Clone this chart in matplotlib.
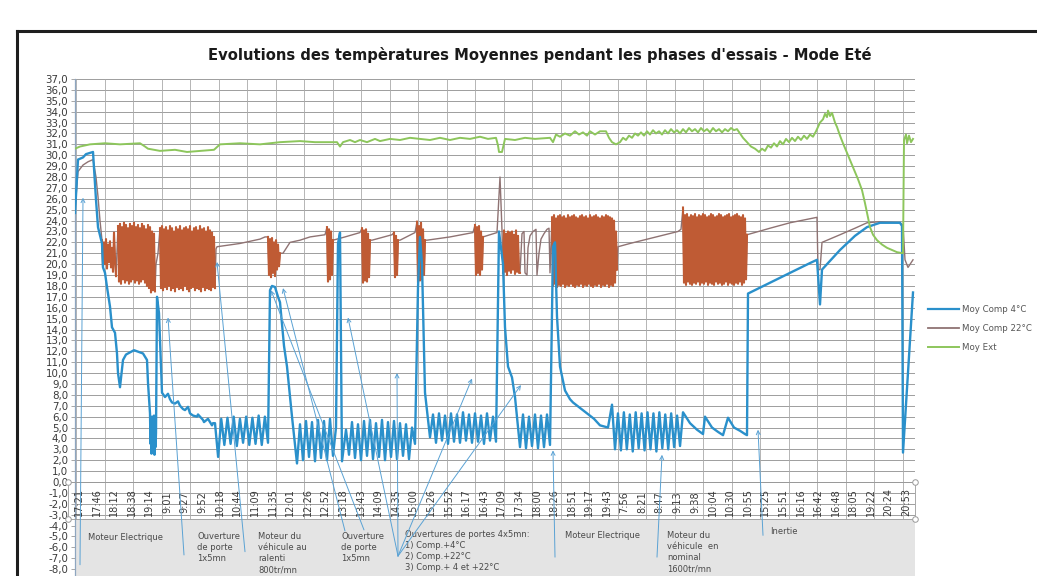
import numpy as np
import matplotlib
matplotlib.use("Agg")
import matplotlib.pyplot as plt
from matplotlib.lines import Line2D
from matplotlib.patches import Rectangle

# ---------------- data ----------------
title = "Evolutions des tempèratures Moyennes pendant les phases d'essais - Mode Eté"
series_names = ["Moy Comp 4°C", "Moy Comp 22°C", "Moy Ext"]

time_labels = ["17:21", "17:46", "18:12", "18:38", "19:14", "9:01", "9:27", "9:52", "10:18", "10:44",
               "11:09", "11:35", "12:01", "12:26", "12:52", "13:18", "13:43", "14:09", "14:35", "15:00",
               "15:26", "15:52", "16:17", "16:43", "17:09", "17:34", "18:00", "18:26", "18:51", "19:17",
               "19:43", "7:56", "8:21", "8:47", "9:13", "9:38", "10:04", "10:30", "10:55", "15:25",
               "15:51", "16:16", "16:42", "16:48", "18:05", "19:22", "20:24", "20:53"]
label_start = 4          # sample index of first label
label_step = 17.6        # samples between labels
n_samples = 840

# Series are given as parts: ('pts', [(sample, value), ...]) or ('osc', s0, s1, [values sampled evenly])
comp4_parts = [
    ('pts', [(0, 24.7), (3, 29.6), (8, 29.8), (11, 30.1), (18, 30.3), (21, 25.9), (23, 23.4), (27, 21.9),
             (28, 19.7), (30, 19.2), (32, 17.9), (35, 16.1), (37, 14.2), (40, 13.7), (42, 11.8), (43, 10.0),
             (45, 8.7), (48, 11.2), (51, 11.7), (55, 11.9), (59, 12.1), (62, 12.0), (65, 11.9), (68, 11.8),
             (72, 11.2), (73, 9.1), (75, 6.3)]),
    ('osc', 75.5, 81, [3.5, 5.8, 2.6, 6.0, 2.8, 5.5, 3.0, 6.1, 2.5, 5.0, 3.2, 4.5]),
    ('pts', [(82, 17.0), (84, 15.5), (87, 8.2), (90, 7.8), (93, 8.1), (95, 7.6), (97, 7.3), (100, 7.2),
             (103, 7.4), (105, 7.0), (108, 6.7), (110, 6.6), (113, 6.9), (115, 6.3), (118, 6.1), (122, 6.0),
             (123, 6.2), (128, 5.7), (129, 5.5), (133, 5.8), (135, 5.5), (137, 5.2), (138, 5.4)]),
    ('osc', 140, 193, [5.4, 2.3, 5.8, 3.4, 5.9, 3.5, 6.0, 3.3, 5.8, 3.6, 6.0, 3.4, 5.9, 3.5, 6.1, 3.4, 6.0, 3.6]),
    ('pts', [(195, 17.6), (197, 18.0), (200, 17.9), (203, 17.0), (205, 16.5), (209, 12.5), (212, 10.6),
             (217, 6.0), (222, 1.7)]),
    ('osc', 225, 261, [5.3, 2.0, 5.6, 2.3, 5.5, 1.9, 5.7, 2.2, 5.6, 2.0, 5.8, 2.4, 5.0]),
    ('pts', [(263, 21.9), (265, 22.9), (267, 1.9)]),
    ('osc', 271, 340, [4.8, 2.5, 5.5, 2.2, 5.3, 2.0, 5.6, 2.4, 5.7, 2.1, 5.4, 2.3, 5.7, 2.0, 5.5, 2.3,
                       5.6, 2.1, 5.4, 2.4, 5.3, 2.1, 5.0, 3.5]),
    ('pts', [(343, 17.9), (345, 22.5), (347, 20.0), (350, 8.2), (355, 4.1)]),
    ('osc', 358, 421, [6.2, 3.6, 6.3, 3.8, 6.1, 3.5, 6.3, 3.7, 6.2, 3.6, 6.4, 3.8, 6.2, 3.6, 6.3, 3.7,
                       6.1, 3.5, 6.3, 3.8, 6.0, 3.7]),
    ('pts', [(424, 23.0), (428, 20.0), (430, 14.2), (433, 10.6), (437, 9.6), (440, 7.8), (442, 6.0)]),
    ('osc', 445, 475, [3.2, 6.2, 3.1, 6.0, 3.3, 6.2, 3.1, 6.1, 3.2, 6.2, 3.4]),
    ('pts', [(478, 21.6), (480, 22.0), (482, 15.2), (485, 10.6), (490, 8.4), (495, 7.6), (498, 7.3),
             (505, 6.8), (512, 6.3), (519, 5.8), (525, 5.2), (533, 5.0), (537, 7.1)]),
    ('osc', 540, 608, [3.0, 6.3, 2.9, 6.4, 3.0, 6.2, 2.8, 6.4, 3.1, 6.3, 2.9, 6.4, 3.0, 6.3, 2.8, 6.4,
                       3.1, 6.2, 3.0, 6.3, 3.2, 6.1, 3.3, 6.4]),
    ('pts', [(615, 5.4), (622, 4.8), (628, 4.4), (630, 6.0), (637, 5.0), (643, 4.6), (648, 4.3), (653, 5.9),
             (659, 5.0), (665, 4.7), (670, 4.4), (672, 4.3), (673, 17.3), (695, 18.3), (715, 19.2),
             (735, 20.1), (742, 20.4), (745, 16.3), (747, 19.5), (765, 21.3), (780, 22.6), (792, 23.4),
             (805, 23.8), (825, 23.8), (827, 23.5), (828, 2.7), (838, 17.4)]),
]

comp22_parts = [
    ('pts', [(0, 25.0), (3, 28.5), (8, 29.1), (13, 29.4), (18, 29.6), (21, 28.0), (22, 27.1), (23, 26.2),
             (25, 24.0)]),
    ('osc', 27, 41, [22.2, 19.8, 22.0, 20.0, 22.3, 19.6, 21.8, 20.2, 22.1, 19.7, 21.5, 19.3, 22.9, 20.5, 18.9]),
    ('osc', 43, 80, [23.5, 18.4, 23.7, 18.2, 23.4, 18.6, 23.8, 18.3, 23.6, 18.5, 23.3, 18.2, 23.7, 18.4,
                     23.5, 18.6, 23.8, 18.3, 23.4, 18.5, 23.6, 18.2, 23.3, 18.4, 23.7, 18.6, 23.5, 18.3,
                     23.2, 18.0, 23.6, 17.8, 23.4, 17.4, 23.0, 17.6, 22.8, 17.5]),
    ('pts', [(81, 20.0), (83, 21.0)]),
    ('osc', 85, 140, [23.3, 17.8, 23.5, 17.6, 23.2, 17.9, 23.4, 17.7, 23.1, 18.0, 23.5, 17.6, 23.3, 17.8,
                      23.0, 17.5, 23.4, 17.9, 23.2, 17.7, 23.5, 17.8, 23.1, 17.6, 23.3, 18.0, 23.4, 17.7,
                      23.2, 17.5, 23.5, 17.8, 23.0, 17.9, 23.3, 17.6, 23.4, 17.8, 23.1, 17.7, 23.5, 17.5,
                      23.2, 17.9, 23.3, 17.6, 23.0, 17.8, 23.4, 17.7, 23.1, 17.6, 22.9, 17.9, 22.5, 17.8]),
    ('pts', [(141, 21.4), (142, 21.6), (165, 21.9), (185, 22.3), (190, 22.5)]),
    ('osc', 193, 205, [22.5, 19.0, 22.3, 18.8, 22.4, 19.2, 22.0, 18.9, 22.2, 19.5, 21.8, 19.8, 21.0]),
    ('pts', [(208, 21.0), (215, 22.0), (225, 22.2), (235, 22.5), (250, 22.7)]),
    ('osc', 252, 258, [23.4, 18.4, 23.2, 18.6, 23.0, 19.0, 22.2]),
    ('pts', [(270, 22.5), (285, 22.9)]),
    ('osc', 287, 295, [23.3, 18.3, 23.1, 18.5, 23.2, 18.4, 22.8, 18.8, 22.2]),
    ('pts', [(297, 22.2), (317, 22.7)]),
    ('osc', 319, 323, [22.9, 18.8, 22.6, 19.0, 22.2]),
    ('pts', [(325, 22.2), (340, 22.9)]),
    ('osc', 342, 350, [23.9, 18.3, 23.5, 18.5, 23.8, 18.6, 23.2, 19.0, 22.2]),
    ('pts', [(352, 22.2), (375, 22.5), (398, 22.9)]),
    ('osc', 400, 408, [23.6, 19.0, 23.4, 19.2, 23.5, 19.0, 23.0, 19.5, 22.5]),
    ('pts', [(422, 22.9), (425, 28.0), (427, 23.1)]),
    ('osc', 428, 445, [19.2, 23.1, 19.3, 22.8, 19.0, 23.0, 19.4, 22.9, 19.2, 23.0, 19.5, 22.7, 19.1, 23.1,
                       19.3, 22.6, 19.2, 19.2]),
    ('pts', [(447, 22.8), (449, 23.0), (450, 19.2), (452, 19.0), (453, 21.5), (455, 22.6), (458, 23.0),
             (461, 23.2), (462, 19.0), (464, 21.0), (466, 22.3), (469, 22.8), (472, 23.2), (474, 23.3),
             (475, 19.2), (476, 21.8)]),
    ('osc', 477, 542, [24.3, 18.0, 24.5, 18.2, 24.2, 17.9, 24.4, 18.1, 24.5, 18.0,
                       24.3, 18.2, 24.4, 17.9, 24.2, 18.1, 24.5, 18.0, 24.3, 18.2,
                       24.4, 18.0, 24.5, 17.9, 24.3, 18.1, 24.2, 18.0, 24.4, 18.2,
                       24.5, 17.9, 24.3, 18.1, 24.4, 18.0, 24.2, 18.2, 24.5, 18.0,
                       24.3, 17.9, 24.4, 18.1, 24.5, 18.0, 24.3, 18.2, 24.2, 17.9,
                       24.4, 18.1, 24.3, 18.0, 24.5, 18.2, 24.4, 17.9, 24.3, 18.1,
                       24.2, 18.0, 24.0, 18.3, 23.0, 19.5]),
    ('pts', [(543, 21.6), (555, 21.9), (568, 22.2), (585, 22.6), (603, 23.0), (606, 23.2)]),
    ('osc', 608, 672, [25.2, 18.3, 24.5, 18.1, 24.6, 18.4, 24.3, 18.2, 24.5, 18.1,
                       24.4, 18.3, 24.6, 18.2, 24.3, 18.4, 24.5, 18.1, 24.4, 18.3,
                       24.6, 18.2, 24.5, 18.4, 24.3, 18.1, 24.4, 18.3, 24.6, 18.2,
                       24.5, 18.1, 24.3, 18.4, 24.4, 18.2, 24.6, 18.3, 24.5, 18.1,
                       24.3, 18.2, 24.4, 18.4, 24.5, 18.1, 24.6, 18.3, 24.3, 18.2,
                       24.4, 18.1, 24.5, 18.3, 24.6, 18.2, 24.4, 18.4, 24.3, 18.1,
                       24.5, 18.3, 24.2, 18.6, 22.7]),
    ('pts', [(695, 23.3), (715, 23.8), (742, 24.3), (743, 19.5), (745, 19.5), (747, 22.0), (765, 22.7),
             (780, 23.3), (792, 23.8), (805, 23.9), (825, 23.8), (828, 23.6), (830, 20.4), (833, 19.7),
             (838, 20.4)]),
]

ext_parts = [
    ('pts', [(0, 30.6), (5, 30.8), (15, 31.0), (30, 31.1), (45, 31.0), (65, 31.1), (70, 30.8), (73, 30.6),
             (85, 30.4), (100, 30.5), (112, 30.3), (125, 30.4), (139, 30.5), (145, 31.0), (165, 31.1),
             (185, 31.0), (205, 31.2), (225, 31.3), (240, 31.2), (262, 31.2), (265, 30.8), (268, 31.2),
             (275, 31.4), (280, 31.2), (285, 31.4), (292, 31.2), (300, 31.5), (305, 31.3), (315, 31.5),
             (325, 31.4), (335, 31.6), (345, 31.5), (355, 31.4), (365, 31.6), (375, 31.4), (385, 31.6),
             (395, 31.5), (405, 31.7), (413, 31.5), (421, 31.6), (423, 30.9), (424, 30.3), (427, 30.3),
             (430, 31.5), (440, 31.4), (450, 31.6), (460, 31.5), (475, 31.6), (478, 31.2), (481, 31.9),
             (485, 31.7), (490, 32.0), (495, 31.8), (500, 32.2), (504, 31.9), (508, 32.1), (512, 31.8),
             (515, 32.2), (520, 31.9), (525, 32.2), (531, 32.2), (534, 31.6), (537, 31.2), (541, 31.0),
             (545, 31.2), (548, 31.6), (551, 31.4), (554, 31.8), (557, 31.6), (560, 32.0), (563, 31.8),
             (566, 32.1), (569, 31.8), (572, 32.2), (575, 31.9), (578, 32.3), (581, 32.0), (584, 32.2),
             (587, 31.9), (590, 32.3), (593, 32.0), (596, 32.4), (599, 32.1), (602, 32.3), (605, 32.0),
             (608, 32.4), (611, 32.1), (614, 32.5), (617, 32.2), (620, 32.4), (623, 32.1), (626, 32.5),
             (629, 32.2), (632, 32.4), (635, 32.1), (638, 32.5), (641, 32.2), (644, 32.4), (647, 32.1),
             (650, 32.4), (653, 32.2), (656, 32.5), (659, 32.3), (662, 32.4), (665, 32.0), (668, 31.6),
             (672, 31.2), (676, 30.8), (680, 30.6), (684, 30.3), (687, 30.6), (690, 30.4), (693, 30.9),
             (696, 30.7), (699, 31.1), (702, 30.8), (705, 31.3), (708, 31.0), (711, 31.5), (714, 31.2),
             (717, 31.6), (720, 31.3), (723, 31.7), (726, 31.4), (729, 31.8), (732, 31.5), (735, 31.9),
             (738, 31.7), (741, 32.2), (743, 32.6), (745, 33.0), (748, 33.3), (750, 33.8), (752, 33.5),
             (753, 34.1), (755, 33.6), (757, 33.9), (760, 33.0), (762, 32.6), (765, 31.8), (768, 31.1),
             (773, 30.0), (778, 28.9), (783, 27.8), (787, 26.8), (790, 25.6), (792, 24.7), (795, 23.4),
             (798, 22.7), (802, 22.2), (807, 21.8), (812, 21.5), (817, 21.3), (822, 21.1), (828, 21.0),
             (829, 31.4), (831, 31.9), (832, 31.1), (834, 31.8), (836, 31.2), (838, 31.5)]),
]

notes = [
    ("Moteur Electrique", 13, -4.7),
    ("Ouverture\nde porte\n1x5mn", 122, -4.6),
    ("Moteur du\nvéhicule au\nralenti\n800tr/mn", 183, -4.6),
    ("Ouverture\nde porte\n1x5mn", 266, -4.6),
    ("Ouvertures de portes 4x5mn:\n1) Comp.+4°C\n2) Comp.+22°C\n3) Comp.+ 4 et +22°C", 330, -4.4),
    ("Moteur Electrique", 490, -4.5),
    ("Moteur du\nvéhicule  en\nnominal\n1600tr/mn", 592, -4.5),
    ("Inertie", 695, -4.1),
]
# arrows: (tail sample, tail value, head sample, head value)
note_arrows = [
    (5, -7.6, 8, 26.1), (109, -6.7, 93, 15.1), (170, -6.4, 142, 20.2),
    (270, -4.5, 208, 17.8), (289, -4.4, 196, 17.6),
    (323, -6.8, 273, 15.1), (323, -6.8, 322, 10.0), (323, -6.8, 397, 9.5), (323, -6.8, 446, 8.9),
    (480, -6.9, 478, 2.9), (582, -6.9, 587, 2.5), (688, -4.9, 683, 4.8),
]


def build(parts):
    ts, vs, dense = [], [], []
    for p in parts:
        if p[0] == 'pts':
            for t, v in p[1]:
                ts.append(t)
                vs.append(v)
        else:
            _, s0, s1, vals = p
            tt = np.linspace(s0, s1, len(vals))
            ts.extend(tt)
            vs.extend(vals)
            dense.append((tt, np.array(vals)))
    return np.array(ts), np.array(vs), dense


# ---------------- figure ----------------
W, H = 1037, 576
fig = plt.figure(figsize=(W / 100, H / 100), dpi=100)
fig.patch.set_facecolor("white")

ax = fig.add_axes([75 / W, 0, 840 / W, 497 / H])
ymin, ymax = -8.632, 37
ax.set_xlim(0, n_samples)
ax.set_ylim(ymin, ymax)
for s in ["top", "right", "bottom"]:
    ax.spines[s].set_visible(False)
ax.spines["left"].set_color("#8ea6c0")
ax.spines["left"].set_linewidth(0.9)

yt = list(range(-8, 38))
ax.set_yticks(yt)
ax.set_yticklabels([f"{v:.1f}".replace(".", ",") for v in yt], fontsize=7.4, color="#3a3a3a")
ax.tick_params(axis="y", length=3, width=0.6, color="#999999", pad=2)
ax.set_xticks([])
ax.grid(False)

# gridlines
for v in yt:
    if v >= -3:
        ax.axhline(v, color="#8e8e8e", lw=0.6, zorder=0)
grid_x = np.linspace(1, 828, 30)
ax.vlines(grid_x, -3.4, ymax, color="#aaaaaa", lw=0.6, zorder=0)

# gray annotation box
ax.add_patch(Rectangle((0, ymin), n_samples, -3.4 - ymin, facecolor="#e4e4e4", edgecolor="none", zorder=1))

# category labels
for i, lab in enumerate(time_labels):
    ax.text(label_start + i * label_step, -1.85, lab, rotation=90, ha="center", va="center",
            fontsize=7, color="#3a3a3a", zorder=3)

# selection rectangle around category axis
ax.add_patch(Rectangle((-7, -3.4), n_samples + 7, 3.4, facecolor="none", edgecolor="#9a9a9a",
                       lw=0.6, zorder=3, clip_on=False))
ax.plot([-7, n_samples, -7, n_samples], [0, 0, -3.4, -3.4], ls="none", marker="o", ms=4,
        mfc="white", mec="#9a9a9a", mew=0.7, clip_on=False, zorder=4)

# series
c4_t, c4_v, _ = build(comp4_parts)
c22_t, c22_v, c22_dense = build(comp22_parts)
ex_t, ex_v, _ = build(ext_parts)

ax.plot(c22_t, c22_v, color="#8f7373", lw=1.0, zorder=4)
for tt, vv in c22_dense:
    ax.plot(tt, vv, color="#bf5b34", lw=1.5, zorder=4)
ax.plot(c4_t, c4_v, color="#2a90cb", lw=1.7, zorder=5)
ax.plot(ex_t, ex_v, color="#8dc65c", lw=1.4, zorder=6)

# annotations
for txt, x, y in notes:
    ax.text(x, y, txt, fontsize=6, color="#4a4a4a", ha="left", va="top", linespacing=1.3, zorder=7)
for x0, y0, x1, y1 in note_arrows:
    ax.annotate("", xy=(x1, y1), xytext=(x0, y0),
                arrowprops=dict(arrowstyle="->", color="#5aa2d4", lw=0.7, shrinkA=0, shrinkB=0,
                                mutation_scale=7), zorder=7)

# title
fig.text(540 / W, 1 - 55 / H, title, ha="center", va="center", fontsize=10.6, fontweight="bold", color="#1a1a1a")

# legend
handles = [Line2D([], [], color="#2a90cb", lw=1.6),
           Line2D([], [], color="#8f7373", lw=1.3),
           Line2D([], [], color="#8dc65c", lw=1.4)]
fig.legend(handles, series_names, loc="upper left", bbox_to_anchor=(928 / W, 1 - 305 / H),
           frameon=False, fontsize=6.2, handlelength=3.6, handletextpad=0.3, labelspacing=1.15,
           borderaxespad=0, borderpad=0, labelcolor="#555555")

# chart frame
fy = 1 - 31 / H
fx = 17 / W
fig.add_artist(Line2D([fx, 1], [fy, fy], color="#1e1e1e", lw=2.2))
fig.add_artist(Line2D([fx, fx], [0, fy], color="#1e1e1e", lw=2.2))

fig.savefig("out.png", dpi=100, facecolor=fig.get_facecolor())
